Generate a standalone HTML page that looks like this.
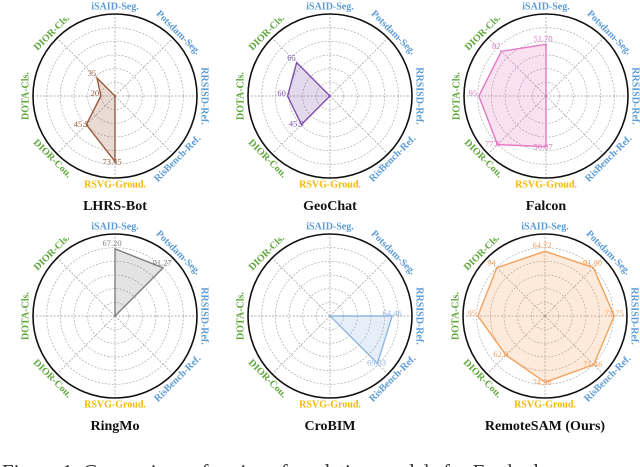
<!DOCTYPE html>
<html><head><meta charset="utf-8"><style>
body{margin:0;background:#fff;width:640px;height:467px;overflow:hidden}
svg{display:block;font-family:"Liberation Serif",serif}
</style></head><body>
<svg id="c" width="640" height="467" viewBox="0 0 640 467"></svg>
<script>
const axes=["iSAID-Seg.","Potsdam-Seg.","RRSISD-Ref.","RisBench-Ref.","RSVG-Groud.","DIOR-Cou.","DOTA-Cls.","DIOR-Cls."];
const axisColors=["#5b9bd5","#5b9bd5","#5b9bd5","#5b9bd5","#f5b800","#5fa83c","#5fa83c","#5fa83c"];
const axisMax=[82,110,85,85,92,92,116,113];
const models=["LHRS-Bot","GeoChat","Falcon","RingMo","CroBIM","RemoteSAM (Ours)"];
const modelColors=["#9a5a3a","#7b52ab","#e377c2","#808080","#8fb6e0","#f5a05a"];
const valsLHRS=[null,null,null,null,73.45,45.5,20,35];
const valsGeoChat=[null,null,null,null,null,45.3,60,65];
const valsFalcon=[51.70,null,null,null,56.87,77.0,95,87];
const valsRingMo=[67.20,91.27,null,null,null,null,null,null];
const valsCroBIM=[null,null,64.46,69.53,null,null,null,null];
const valsRemoteSAM=[64.72,91.80,71.75,71.46,74.36,62.0,95,94];
const allVals=[valsLHRS,valsGeoChat,valsFalcon,valsRingMo,valsCroBIM,valsRemoteSAM];
const decimals=[[0,0,0,0,2,1,0,0],[0,0,0,0,0,1,0,0],[2,0,0,0,2,1,0,0],[2,2,0,0,0,0,0,0],[0,0,2,2,0,0,0,0],[2,2,2,2,2,1,0,0]];
const centers=[[115,96],[330,96],[546,96],[115,316],[330,316],[545,316]];
const R=82, NS="http://www.w3.org/2000/svg", svg=document.getElementById('c');
function mk(t,a,p){const e=document.createElementNS(NS,t);for(const k in a)e.setAttribute(k,a[k]);(p||svg).appendChild(e);return e;}
function ang(i){return -Math.PI/2+i*Math.PI/4;}
function rad(i,v){return v/axisMax[i]*R;}
function pt(cx,cy,i,r){return [cx+r*Math.cos(ang(i)),cy+r*Math.sin(ang(i))];}
models.forEach((m,k)=>{
  const [cx,cy]=centers[k];
  const g=mk('g',{});
  
  
  for(let j=1;j<6;j++){const c=mk('circle',{cx,cy,r:R*j/6,fill:'none',stroke:'#aaa','stroke-width':0.7,'stroke-dasharray':'2,1.5'},g);}
  for(let i=0;i<8;i++){const [x,y]=pt(cx,cy,i,R);const l=mk('line',{x1:cx,y1:cy,x2:x,y2:y,stroke:'#999','stroke-width':0.7,'stroke-dasharray':'2,1.5'},g);}
  const oc=mk('circle',{cx,cy,r:R,fill:'none',stroke:'#111','stroke-width':1.6},g);
  
  axes.forEach((a,i)=>{
    const [x,y]=pt(cx,cy,i,R+7);
    let rot=i*45; if(rot>90&&rot<270)rot-=180; if(rot>=270)rot-=360;
    const t=mk('text',{x,y,fill:axisColors[i],'font-size':10,'font-weight':'bold','text-anchor':'middle','dominant-baseline':'middle',transform:`rotate(${rot} ${x} ${y})`},g);
    t.textContent=a;
  });
  const vals=allVals[k];
  const p=vals.map((v,i)=>pt(cx,cy,i,v==null?0:rad(i,v)));
  const poly=mk('polygon',{points:p.map(q=>q.join(',')).join(' '),fill:modelColors[k],'fill-opacity':0.22,stroke:modelColors[k],'stroke-width':1.4,'stroke-linejoin':'miter'},g);
  
  vals.forEach((v,i)=>{
    if(v==null)return;
    const [x,y]=pt(cx,cy,i,rad(i,v)+3);
    const t=mk('text',{x:x-3,y:y-2,fill:modelColors[k],'font-size':8.5,'text-anchor':'middle','dominant-baseline':'middle'},g);
    t.textContent=v.toFixed(decimals[k][i]);
    
  });
  const tt=mk('text',{x:cx,y:cy+R+32,'font-size':14,'font-weight':'bold','text-anchor':'middle',fill:'#111'},g);
  tt.textContent=m;
});
const cap=mk('text',{x:2,y:479,'font-size':21,fill:'#333'});
cap.textContent="Figure 1. Comparison of various foundation models for Earth obs";

</script>
</body></html>
